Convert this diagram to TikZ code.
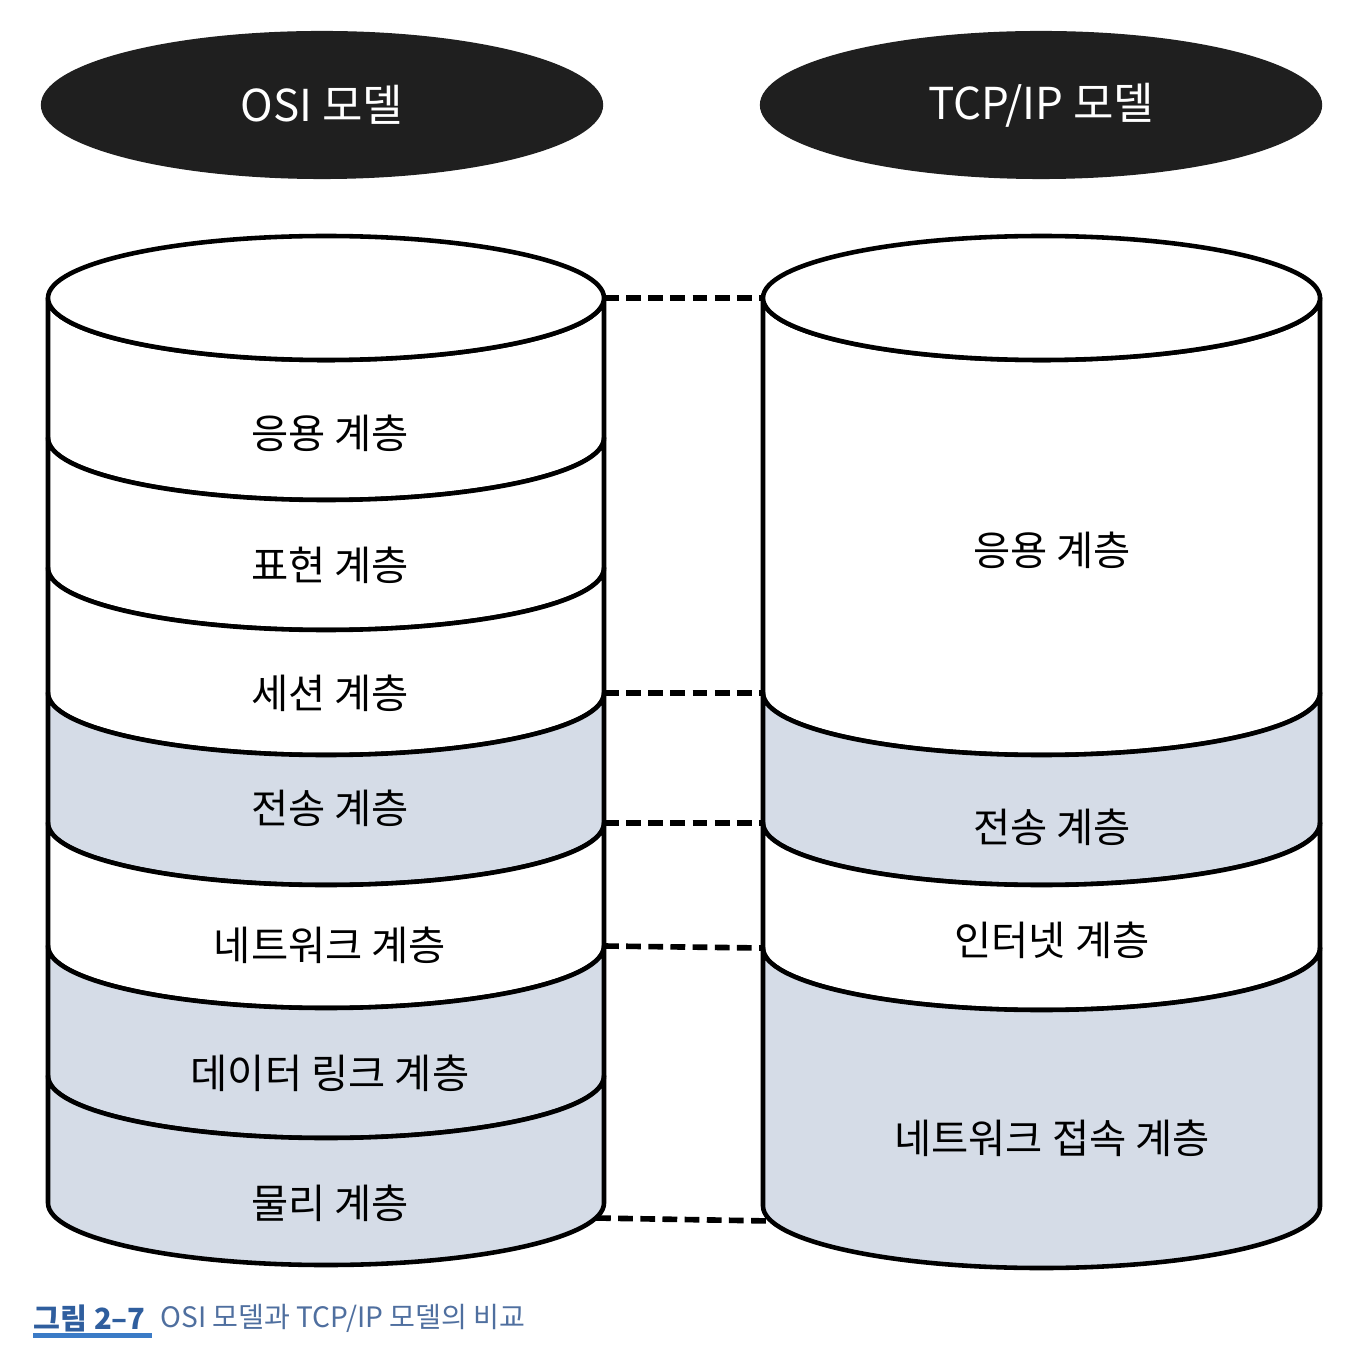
\documentclass[tikz,border=0pt]{standalone}
\usepackage{fontspec}
\setmainfont{Noto Sans CJK KR}
\usetikzlibrary{shapes.geometric}
\definecolor{layerblue}{HTML}{D5DCE7}
\definecolor{capblue}{HTML}{2F5E9E}
\definecolor{captext}{HTML}{4F6F9F}
\definecolor{capline}{HTML}{3B7BC6}
\tikzset{
	band/.style = {draw, line width = 1.3pt, fill = white, line join = round},
	blueband/.style = {band, fill = layerblue},
	link/.style = {line width = 1.6pt, dash pattern = on 4.2pt off 2.1pt},
	layer/.style = {font = \fontsize{11.5}{13}\selectfont},
	head/.style = {ellipse, fill = black!88, text = white, inner sep = 0pt, minimum width = 5.62cm, minimum height = 1.48cm, font = \fontsize{12.5}{14}\selectfont}
}
\begin{document}
\begin{tikzpicture}[x = 0.01cm, y = 0.01cm]
	\useasboundingbox (0, 0) rectangle (1368, 1363);

	% osi side levels
	\coordinate (l0) at (48, 1065);
	\coordinate (l1) at (48, 925);
	\coordinate (l2) at (48, 795);
	\coordinate (l3) at (48, 670);
	\coordinate (l4) at (48, 540);
	\coordinate (l5) at (48, 417);
	\coordinate (l6) at (48, 287);
	\coordinate (l7) at (48, 160);

	\coordinate (r0) at (604, 1065);
	\coordinate (r1) at (604, 925);
	\coordinate (r2) at (604, 795);
	\coordinate (r3) at (604, 670);
	\coordinate (r4) at (604, 540);
	\coordinate (r5) at (604, 417);
	\coordinate (r6) at (604, 287);
	\coordinate (r7) at (604, 160);

	% tcp/ip side levels
	\coordinate (tl0) at (763, 1065);
	\coordinate (tl1) at (763, 670);
	\coordinate (tl2) at (763, 540);
	\coordinate (tl3) at (763, 415);
	\coordinate (tl4) at (763, 157);

	\coordinate (tr0) at (1320, 1065);
	\coordinate (tr1) at (1320, 670);
	\coordinate (tr2) at (1320, 540);
	\coordinate (tr3) at (1320, 415);
	\coordinate (tr4) at (1320, 157);

	% bottom ends of the dashed link
	\coordinate (lb) at (596, 145);
	\coordinate (tb) at (771, 142);

	% osi cylinder
	\draw [band] (l0) arc [start angle = 180, end angle = 360, x radius = 278, y radius = 62] -- (r1) arc [start angle = 0, end angle = -180, x radius = 278, y radius = 62] -- cycle;
	\draw [band] (l1) arc [start angle = 180, end angle = 360, x radius = 278, y radius = 62] -- (r2) arc [start angle = 0, end angle = -180, x radius = 278, y radius = 62] -- cycle;
	\draw [band] (l2) arc [start angle = 180, end angle = 360, x radius = 278, y radius = 62] -- (r3) arc [start angle = 0, end angle = -180, x radius = 278, y radius = 62] -- cycle;
	\draw [blueband] (l3) arc [start angle = 180, end angle = 360, x radius = 278, y radius = 62] -- (r4) arc [start angle = 0, end angle = -180, x radius = 278, y radius = 62] -- cycle;
	\draw [band] (l4) arc [start angle = 180, end angle = 360, x radius = 278, y radius = 62] -- (r5) arc [start angle = 0, end angle = -180, x radius = 278, y radius = 62] -- cycle;
	\draw [blueband] (l5) arc [start angle = 180, end angle = 360, x radius = 278, y radius = 62] -- (r6) arc [start angle = 0, end angle = -180, x radius = 278, y radius = 62] -- cycle;
	\draw [blueband] (l6) arc [start angle = 180, end angle = 360, x radius = 278, y radius = 62] -- (r7) arc [start angle = 0, end angle = -180, x radius = 278, y radius = 62] -- cycle;
	\draw [band] (326, 1065) ellipse [x radius = 278, y radius = 62];

	% tcp/ip cylinder
	\draw [band] (tl0) arc [start angle = 180, end angle = 360, x radius = 278.5, y radius = 62] -- (tr1) arc [start angle = 0, end angle = -180, x radius = 278.5, y radius = 62] -- cycle;
	\draw [blueband] (tl1) arc [start angle = 180, end angle = 360, x radius = 278.5, y radius = 62] -- (tr2) arc [start angle = 0, end angle = -180, x radius = 278.5, y radius = 62] -- cycle;
	\draw [band] (tl2) arc [start angle = 180, end angle = 360, x radius = 278.5, y radius = 62] -- (tr3) arc [start angle = 0, end angle = -180, x radius = 278.5, y radius = 62] -- cycle;
	\draw [blueband] (tl3) arc [start angle = 180, end angle = 360, x radius = 278.5, y radius = 62] -- (tr4) arc [start angle = 0, end angle = -180, x radius = 278.5, y radius = 62] -- cycle;
	\draw [band] (1041.5, 1065) ellipse [x radius = 278.5, y radius = 62];

	% dashed links
	\draw [link] (r0) -- (tl0);
	\draw [link] (r3) -- (tl1);
	\draw [link] (r4) -- (tl2);
	\draw [link] (r5) -- (tl3);
	\draw [link] (lb) -- (tb);

	% headers
	\node [head] (osi) at (322, 1258) {OSI 모델};
	\node [head] (tcpip) at (1041, 1258) {TCP/IP 모델};

	% layer labels
	\node [layer] (app) at (330, 930) {응용 계층};
	\node [layer] (pres) at (330, 798) {표현 계층};
	\node [layer] (sess) at (330, 670) {세션 계층};
	\node [layer] (trans) at (330, 555) {전송 계층};
	\node [layer] (net) at (330, 418) {네트워크 계층};
	\node [layer] (link) at (330, 290) {데이터 링크 계층};
	\node [layer] (phys) at (330, 160) {물리 계층};

	\node [layer] (tapp) at (1052, 813) {응용 계층};
	\node [layer] (ttrans) at (1052, 536) {전송 계층};
	\node [layer] (tinet) at (1052, 423) {인터넷 계층};
	\node [layer] (tacc) at (1052, 225) {네트워크 접속 계층};

	% caption
	\node [anchor = west, inner sep = 0pt, text = capblue, font = \fontsize{8.3}{9}\selectfont\bfseries] (fig) at (33, 45) {그림 2–7};
	\node [anchor = west, inner sep = 0pt, text = captext, font = \fontsize{8}{9}\selectfont] (cap) at (160, 45) {OSI 모델과 TCP/IP 모델의 비교};
	\fill [capline] (33, 25) rectangle (152, 30);
\end{tikzpicture}
\end{document}
